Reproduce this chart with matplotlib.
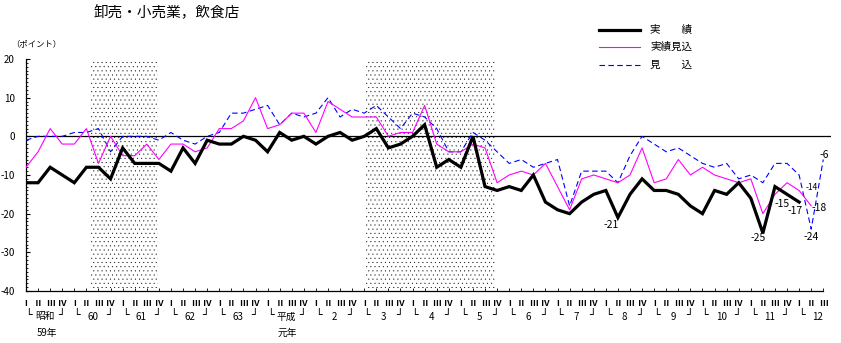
import matplotlib
matplotlib.use("Agg")
import matplotlib.pyplot as plt
from matplotlib import transforms
from matplotlib.lines import Line2D
from matplotlib.ticker import MultipleLocator

plt.rcParams['font.family'] = ['Noto Sans CJK JP', 'DejaVu Sans']
plt.rcParams['axes.unicode_minus'] = False
plt.rcParams['hatch.linewidth'] = 0.2

# ---- data: quarterly DI (ポイント), 昭和59年Ⅰ期 (index 0) から 平成12年Ⅲ期 ----
quarters = ["Ⅰ", "Ⅱ", "Ⅲ", "Ⅳ"] * 16 + ["Ⅰ", "Ⅱ", "Ⅲ"]
year_labels = ["昭和", "60", "61", "62", "63", "平成", "2", "3", "4", "5",
               "6", "7", "8", "9", "10", "11", "12"]

jisseki = [-12, -12, -8, -10, -12, -8, -8, -11, -3, -7, -7, -7, -9, -3, -7, -1,
           -2, -2, 0, -1, -4, 1, -1, 0, -2, 0, 1, -1, 0, 2, -3, -2,
           0, 3, -8, -6, -8, 0, -13, -14, -13, -14, -10, -17, -19, -20, -17, -15,
           -14, -21, -15, -11, -14, -14, -15, -18, -20, -14, -15, -12, -16, -25, -13, -15,
           -17]

jisseki_mikomi = [-8, -4, 2, -2, -2, 2, -7, 0, -5, -5, -2, -6, -2, -2, -4, -3,
                  2, 2, 4, 10, 2, 3, 6, 6, 1, 9, 7, 5, 5, 5, 0, 1,
                  1, 8, -2, -4, -4, -2, -3, -12, -10, -9, -10, -7, -13, -19, -11, -10,
                  -11, -12, -10, -3, -12, -11, -6, -10, -8, -10, -11, -12, -11, -20, -15, -12,
                  -14, -18]

mikomi = [-1, 0, 0, 0, 1, 1, 2, -4, 0, 0, 0, -1, 1, -1, -2, 0,
          1, 6, 6, 7, 8, 3, 6, 5, 6, 10, 5, 7, 6, 8, 5, 2,
          6, 5, 2, -4, -4, 1, -1, -4, -7, -6, -8, -7, -6, -18, -9, -9,
          -9, -12, -5, 0, -2, -4, -3, -5, -7, -8, -7, -11, -10, -12, -7, -7,
          -10, -24, -6]

# recession periods (in quarter index units)
recessions = [(5.3, 10.95), (28.15, 38.8)]

W, H = 841, 343
fig = plt.figure(figsize=(W / 100, H / 100), dpi=100)
ax = fig.add_axes([26 / W, 1 - 291 / H, (831 - 26) / W, (291 - 59) / H])
ax.set_xlim(0, 805 / 12.08)
ax.set_ylim(-40, 20)

for a, b in recessions:
    ax.axvspan(a, b, facecolor='none', edgecolor='black', hatch='....',
               linewidth=0, zorder=0)

ax.axhline(0, color='black', lw=0.9, zorder=2)

ax.plot(range(len(mikomi)), mikomi, color='#0000ff', lw=0.8,
        dashes=(5, 3), zorder=3)
ax.plot(range(len(jisseki_mikomi)), jisseki_mikomi, color='#ff00ff', lw=0.8,
        zorder=4)
ax.plot(range(len(jisseki)), jisseki, color='black', lw=2.3,
        solid_joinstyle='miter', zorder=5)

# value labels at the latest quarters
notes = [
    (jisseki, 49, -7, 7.5, 7.5),
    (jisseki, 61, -5, 5, 7.5),
    (jisseki, 63, -5, 9.5, 7.5),
    (jisseki, 64, -4, 9, 7.5),
    (jisseki_mikomi, 64, 13, -3, 6),
    (jisseki_mikomi, 65, 8, 2, 7.5),
    (mikomi, 65, 0, 8, 7.5),
    (mikomi, 66, 1, -5, 7.5),
]
for series, i, dx, dy, fs in notes:
    ax.annotate(f"{series[i]}", xy=(i, series[i]), xytext=(dx, -dy),
                textcoords='offset pixels', ha='center', va='center',
                fontsize=fs, zorder=6)

# axes styling
for s in ('top', 'right'):
    ax.spines[s].set_visible(False)
ax.spines['left'].set_linewidth(0.9)
ax.spines['bottom'].set_linewidth(0.9)
ax.spines['bottom'].set_bounds(0, len(quarters) - 1)

ax.set_yticks(range(-40, 21, 10))
ax.yaxis.set_minor_locator(MultipleLocator(1))
ax.tick_params(axis='y', which='major', direction='in', length=3, width=0.8,
               pad=8, labelsize=7)
ax.tick_params(axis='y', which='minor', direction='in', length=1.3, width=0.6)
ax.set_xticks(range(len(quarters)))
ax.set_xticklabels([])
ax.tick_params(axis='x', which='major', direction='in', length=2, width=0.6)

blend = transforms.blended_transform_factory(ax.transData, fig.transFigure)


def fy(px):
    return 1 - px / H


for i, q in enumerate(quarters):
    ax.text(i, fy(304), q, transform=blend, ha='center', va='center',
            fontsize=6.3, fontweight='bold')

for k, lab in enumerate(year_labels):
    start = 4 * k
    ax.text(start + 0.2, fy(315), "└", transform=blend, ha='center',
            va='center', fontsize=8, family='DejaVu Sans')
    ax.text(start + 1.55, fy(316.5), lab, transform=blend, ha='center',
            va='center', fontsize=7)
    if start + 3 < len(quarters):
        ax.text(start + 2.9, fy(315), "┘", transform=blend, ha='center',
                va='center', fontsize=8, family='DejaVu Sans')

ax.text(1.75, fy(333), "59年", transform=blend, ha='center', va='center',
        fontsize=7)
ax.text(21.6, fy(333), "元年", transform=blend, ha='center', va='center',
        fontsize=7)

fig.text(167 / W, fy(13), "卸売・小売業，飲食店", ha='center', va='center',
         fontsize=10.5)
fig.text(36 / W, fy(44), "（ポイント）", ha='center', va='center', fontsize=6)

# legend
legend_rows = [
    ("実　　績", dict(color='black', lw=2.3), 30),
    ("実績見込", dict(color='#ff00ff', lw=0.8), 47),
    ("見　　込", dict(color='#0000ff', lw=0.8, dashes=(5, 3)), 65),
]
for label, style, ypx in legend_rows:
    fig.add_artist(Line2D([599 / W, 640 / W], [fy(ypx), fy(ypx)],
                          transform=fig.transFigure, **style))
    fig.text(650 / W, fy(ypx), label, ha='left', va='center', fontsize=7.6)

fig.savefig("out.png", dpi=100)
